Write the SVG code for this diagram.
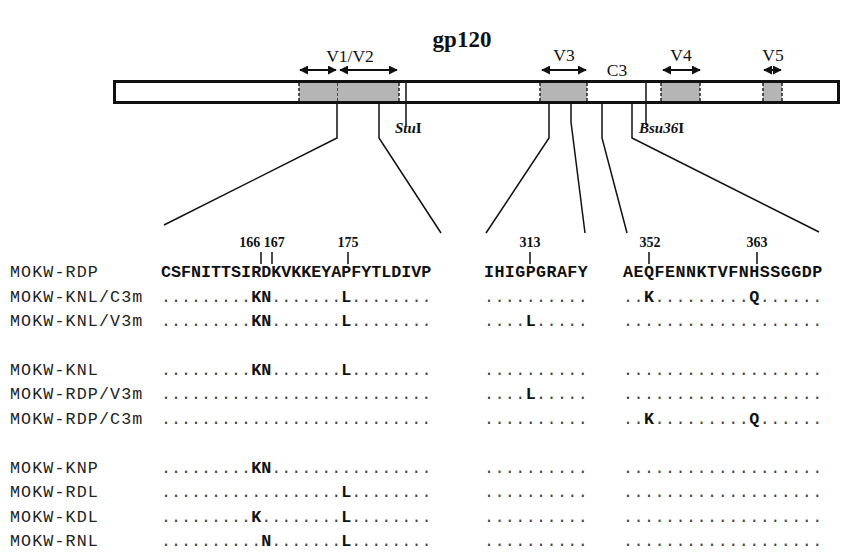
<svg xmlns="http://www.w3.org/2000/svg" width="843" height="552" viewBox="0 0 843 552">
<style>
.serif{font-family:"Liberation Serif","Times New Roman",serif;fill:#111}
.title{font-size:23px;font-weight:bold}
.reg{font-size:17.5px}
.num{font-size:14px;font-weight:bold}
.site{font-size:15px;font-weight:bold}
.mono{font-family:"Liberation Mono","Courier New",monospace;fill:#222}
.lab{font-size:16.7px;letter-spacing:1.1px}
.seq{font-size:16.7px}
.b{font-weight:bold;fill:#111}
.d{fill:#444}
.box{fill:#b5b5b5;stroke:none}
.dash{stroke:#222;stroke-width:1.5;stroke-dasharray:3 2;fill:none}
.ln{stroke:#111;stroke-width:1.5;fill:none}
.arr{stroke:#111;stroke-width:2;fill:none;marker-start:url(#ah);marker-end:url(#ah)}
.tick{stroke:#111;stroke-width:1.5}
</style>
<defs>
<marker id="ah" viewBox="0 0 10 10" refX="9" refY="5" markerWidth="4.5" markerHeight="4.5" orient="auto-start-reverse" markerUnits="strokeWidth">
<path d="M0,0 L10,5 L0,10 z" fill="#111"/>
</marker>
</defs>

<text class="serif title" x="462" y="47" text-anchor="middle">gp120</text>

<g id="gp120-bar">
<rect x="114.5" y="81.5" width="724" height="21" fill="#fff" stroke="#111" stroke-width="3"/>
</g>

<g id="V1">
<rect class="box" x="299" y="83" width="39" height="18"/>
<path class="dash" d="M299,83 V101 M338,83 V101"/>
<path class="arr" d="M300,70 H336"/>
</g>
<g id="V2">
<rect class="box" x="338" y="83" width="61" height="18"/>
<path class="dash" d="M399,83 V101"/>
<path class="arr" d="M340,70 H397"/>
<text class="serif reg" x="350" y="62" text-anchor="middle">V1/V2</text>
</g>
<g id="V3">
<rect class="box" x="540" y="83" width="47" height="18"/>
<path class="dash" d="M540,83 V101 M587,83 V101"/>
<path class="arr" d="M542,70 H586"/>
<text class="serif reg" x="564" y="61" text-anchor="middle">V3</text>
</g>
<g id="C3">
<text class="serif reg" x="617" y="76" text-anchor="middle">C3</text>
</g>
<g id="V4">
<rect class="box" x="661" y="83" width="39" height="18"/>
<path class="dash" d="M661,83 V101 M700,83 V101"/>
<path class="arr" d="M663,70 H700"/>
<text class="serif reg" x="681" y="61" text-anchor="middle">V4</text>
</g>
<g id="V5">
<rect class="box" x="763" y="83" width="19" height="18"/>
<path class="dash" d="M763,83 V101 M782,83 V101"/>
<path class="arr" d="M764,70 H781"/>
<text class="serif reg" x="773" y="61" text-anchor="middle">V5</text>
</g>

<g id="StuI">
<path class="ln" d="M406,81 V125"/>
<text class="serif site" x="395" y="133"><tspan font-style="italic">Stu</tspan>I</text>
</g>
<g id="Bsu36I">
<path class="ln" d="M646,81 V125"/>
<text class="serif site" x="639" y="133"><tspan font-style="italic">Bsu36</tspan>I</text>
</g>

<g id="connectors">
<path class="ln" d="M337,103 V138 L164,225"/>
<path class="ln" d="M379,103 V138 L441,233"/>
<path class="ln" d="M549,103 V138 L486,233"/>
<path class="ln" d="M571,103 V122 L585,233"/>
<path class="ln" d="M602,103 V138 L627,233"/>
<path class="ln" d="M632,103 V138 L819,232"/>
</g>

<g id="positions">
<text class="serif num" x="262" y="247" text-anchor="middle">166 167</text>
<text class="serif num" x="348" y="247" text-anchor="middle">175</text>
<text class="serif num" x="530" y="247" text-anchor="middle">313</text>
<text class="serif num" x="650" y="247" text-anchor="middle">352</text>
<text class="serif num" x="757" y="247" text-anchor="middle">363</text>
<path class="tick" d="M261,252 V264 M272,252 V264 M348,252 V264 M530,252 V264 M649,252 V264 M757,252 V264"/>
</g>

<g id="labels" class="mono lab">
<text x="10" y="277">MOKW-RDP</text>
<text x="10" y="301.5">MOKW-KNL/C3m</text>
<text x="10" y="326">MOKW-KNL/V3m</text>
<text x="10" y="374.5">MOKW-KNL</text>
<text x="10" y="399">MOKW-RDP/V3m</text>
<text x="10" y="423.5">MOKW-RDP/C3m</text>
<text x="10" y="472.5">MOKW-KNP</text>
<text x="10" y="497">MOKW-RDL</text>
<text x="10" y="521.5">MOKW-KDL</text>
<text x="10" y="546">MOKW-RNL</text>
</g>

<g id="block1" class="mono seq">
<text x="161" y="277" class="b">CSFNITTSIRDKVKKEYAPFYTLDIVP</text>
<text x="161" y="301.5"><tspan class="d">.........</tspan><tspan class="b">KN</tspan><tspan class="d">.......</tspan><tspan class="b">L</tspan><tspan class="d">........</tspan></text>
<text x="161" y="326"><tspan class="d">.........</tspan><tspan class="b">KN</tspan><tspan class="d">.......</tspan><tspan class="b">L</tspan><tspan class="d">........</tspan></text>
<text x="161" y="374.5"><tspan class="d">.........</tspan><tspan class="b">KN</tspan><tspan class="d">.......</tspan><tspan class="b">L</tspan><tspan class="d">........</tspan></text>
<text x="161" y="399" class="d">...........................</text>
<text x="161" y="423.5" class="d">...........................</text>
<text x="161" y="472.5"><tspan class="d">.........</tspan><tspan class="b">KN</tspan><tspan class="d">................</tspan></text>
<text x="161" y="497"><tspan class="d">..................</tspan><tspan class="b">L</tspan><tspan class="d">........</tspan></text>
<text x="161" y="521.5"><tspan class="d">.........</tspan><tspan class="b">K</tspan><tspan class="d">........</tspan><tspan class="b">L</tspan><tspan class="d">........</tspan></text>
<text x="161" y="546"><tspan class="d">..........</tspan><tspan class="b">N</tspan><tspan class="d">.......</tspan><tspan class="b">L</tspan><tspan class="d">........</tspan></text>
</g>

<g id="block2" class="mono seq" style="letter-spacing:0.4px">
<text x="484" y="277" class="b">IHIGPGRAFY</text>
<text x="484" y="301.5" class="d">..........</text>
<text x="484" y="326"><tspan class="d">....</tspan><tspan class="b">L</tspan><tspan class="d">.....</tspan></text>
<text x="484" y="374.5" class="d">..........</text>
<text x="484" y="399"><tspan class="d">....</tspan><tspan class="b">L</tspan><tspan class="d">.....</tspan></text>
<text x="484" y="423.5" class="d">..........</text>
<text x="484" y="472.5" class="d">..........</text>
<text x="484" y="497" class="d">..........</text>
<text x="484" y="521.5" class="d">..........</text>
<text x="484" y="546" class="d">..........</text>
</g>

<g id="block3" class="mono seq" style="letter-spacing:0.5px">
<text x="623" y="277" class="b">AEQFENNKTVFNHSSGGDP</text>
<text x="623" y="301.5"><tspan class="d">..</tspan><tspan class="b">K</tspan><tspan class="d">.........</tspan><tspan class="b">Q</tspan><tspan class="d">......</tspan></text>
<text x="623" y="326" class="d">...................</text>
<text x="623" y="374.5" class="d">...................</text>
<text x="623" y="399" class="d">...................</text>
<text x="623" y="423.5"><tspan class="d">..</tspan><tspan class="b">K</tspan><tspan class="d">.........</tspan><tspan class="b">Q</tspan><tspan class="d">......</tspan></text>
<text x="623" y="472.5" class="d">...................</text>
<text x="623" y="497" class="d">...................</text>
<text x="623" y="521.5" class="d">...................</text>
<text x="623" y="546" class="d">...................</text>
</g>
</svg>
